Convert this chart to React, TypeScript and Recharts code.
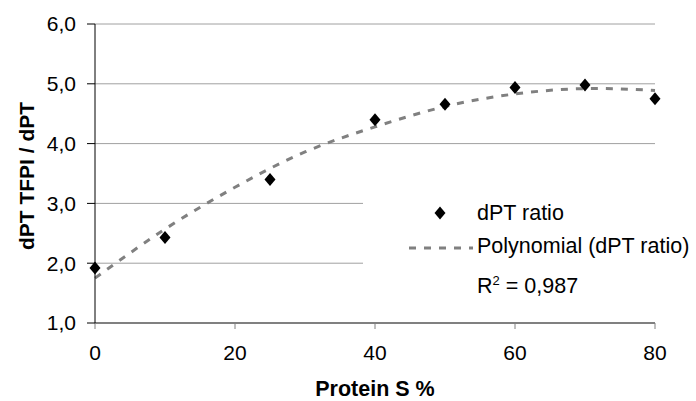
import {
  ComposedChart,
  Scatter,
  Line,
  XAxis,
  YAxis,
  CartesianGrid,
  Label,
} from 'recharts';

// measured points
const proteinS = [0, 10, 25, 40, 50, 60, 70, 80];
const dptRatio = [1.92, 2.43, 3.4, 4.4, 4.66, 4.94, 4.98, 4.75];

// polynomial trendline
const trendX = [0, 10, 20, 30, 40, 50, 60, 70, 80];
const trendY = [1.75, 2.57, 3.27, 3.86, 4.28, 4.62, 4.83, 4.92, 4.89];

const xTicks = [0, 20, 40, 60, 80];
const yTicks = [1, 2, 3, 4, 5, 6];
const rSquared = '0,987';

const FONT = '"Liberation Sans", Arial, sans-serif';

const pointData = proteinS.map((x, i) => ({ x, y: dptRatio[i] }));
const trendData = trendX.map((x, i) => ({ x, y: trendY[i] }));

const fmt = (v: number) => v.toFixed(1).replace('.', ',');

const Diamond = (props: any) => {
  const { cx, cy } = props;
  if (cx == null || cy == null) return null;
  return (
    <polygon
      points={`${cx},${cy - 6.5} ${cx + 5.5},${cy} ${cx},${cy + 6.5} ${cx - 5.5},${cy}`}
      fill="#000"
    />
  );
};

// legend sits over the plot, white box hides the gridlines behind it
const LegendBox = () => (
  <div
    style={{
      position: 'absolute',
      left: 363,
      top: 190,
      width: 333,
      height: 112,
      background: '#fff',
      fontFamily: FONT,
      fontSize: 21.5,
      color: '#000',
    }}
  >
    <svg width={333} height={112} style={{ position: 'absolute', left: 0, top: 0 }}>
      <polygon points="77,16.5 82.5,23 77,29.5 71.5,23" fill="#000" />
      <line x1={46} y1={58} x2={110} y2={58} stroke="#808080" strokeWidth={3} strokeDasharray="7 8" />
    </svg>
    <div style={{ position: 'absolute', left: 114, top: 8, lineHeight: '30px', whiteSpace: 'nowrap' }}>dPT ratio</div>
    <div style={{ position: 'absolute', left: 114, top: 41, lineHeight: '30px', whiteSpace: 'nowrap' }}>
      Polynomial (dPT ratio)
    </div>
    <div style={{ position: 'absolute', left: 114, top: 76, lineHeight: '30px', whiteSpace: 'nowrap' }}>
      R<sup style={{ fontSize: 13 }}>2</sup> = {rSquared}
    </div>
  </div>
);

export default function App() {
  return (
    <div style={{ position: 'absolute', left: 0, top: 0, width: 696, height: 401, background: '#fff' }}>
      <ComposedChart
        width={696}
        height={401}
        margin={{ top: 24, right: 41, bottom: 0, left: 0 }}
        style={{ fontFamily: FONT }}
      >
        <CartesianGrid horizontal vertical={false} stroke="#a0a0a0" />
        <XAxis
          type="number"
          dataKey="x"
          domain={[0, 80]}
          ticks={xTicks}
          interval={0}
          height={78}
          axisLine={{ stroke: '#808080', strokeWidth: 2 }}
          tickLine={{ stroke: '#808080' }}
          tickSize={6}
          tickMargin={16}
          tick={{ fill: '#000', fontSize: 21, fontFamily: FONT }}
        >
          <Label
            content={({ viewBox }: any) => (
              <text
                x={viewBox.x + viewBox.width / 2}
                y={viewBox.y + 73}
                textAnchor="middle"
                fontFamily={FONT}
                fontWeight="bold"
                fontSize={21.5}
                fill="#000"
              >
                Protein S %
              </text>
            )}
          />
        </XAxis>
        <YAxis
          type="number"
          domain={[1, 6]}
          ticks={yTicks}
          interval={0}
          width={95}
          tickFormatter={fmt}
          axisLine={{ stroke: '#000' }}
          tickLine={{ stroke: '#000' }}
          tickSize={8}
          tickMargin={11}
          tick={{ fill: '#000', fontSize: 21, fontFamily: FONT }}
        >
          <Label
            content={() => (
              <text
                x={26}
                y={176}
                transform="rotate(-90 26 176)"
                textAnchor="middle"
                dominantBaseline="central"
                fontFamily={FONT}
                fontWeight="bold"
                fontSize={21}
                fill="#000"
              >
                dPT TFPI / dPT
              </text>
            )}
          />
        </YAxis>
        <Line
          data={trendData}
          dataKey="y"
          type="natural"
          stroke="#808080"
          strokeWidth={3}
          strokeDasharray="7 8"
          dot={false}
          activeDot={false}
          isAnimationActive={false}
        />
        <Scatter data={pointData} dataKey="y" shape={<Diamond />} isAnimationActive={false} />
      </ComposedChart>
      <LegendBox />
    </div>
  );
}
